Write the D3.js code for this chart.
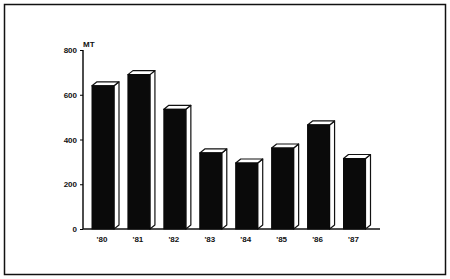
<!DOCTYPE html>
<html>
<head>
<meta charset="UTF-8">
<script src="https://d3js.org/d3.v7.min.js"></script>
<style>
  body { margin: 0; background: #fff; }
  text { font-family: "Liberation Sans", Arial, sans-serif; font-weight: bold; fill: #111; }
</style>
</head>
<body>
<div id="chart"></div>
<script>
// data (MT per year)
var years = ["'80", "'81", "'82", "'83", "'84", "'85", "'86", "'87"];
var values = [640, 690, 535, 340, 295, 362, 465, 315];
var yTicks = [0, 200, 400, 600, 800];

var W = 450, H = 279;
var svg = d3.select("#chart").append("svg")
    .attr("width", W)
    .attr("height", H);

// outer frame
svg.append("rect")
    .attr("x", 4.5).attr("y", 4.5)
    .attr("width", 441).attr("height", 270)
    .attr("fill", "none")
    .attr("stroke", "#111")
    .attr("stroke-width", 1.5);

var x = d3.scalePoint()
    .domain(years)
    .range([103, 354.5]);

var y = d3.scaleLinear()
    .domain([0, 800])
    .range([229, 50]);

var barW = 22, dx = 5, dy = 4;

// y axis
var yAxis = svg.append("g")
    .attr("transform", "translate(83,0)")
    .call(d3.axisLeft(y).tickValues(yTicks).tickSize(3).tickPadding(3));
yAxis.select(".domain").attr("stroke", "#111").attr("stroke-width", 1.5)
    .attr("d", "M0," + y(800) + "V" + y(0));
yAxis.selectAll("text").style("font-size", "8px");

// unit label
svg.append("text")
    .attr("x", 83).attr("y", 47)
    .style("font-size", "8px")
    .text("MT");

// baseline
svg.append("line")
    .attr("x1", 83).attr("x2", 380)
    .attr("y1", y(0)).attr("y2", y(0))
    .attr("stroke", "#111").attr("stroke-width", 1.5);

// bars
var bars = svg.append("g").selectAll("g")
    .data(values)
    .enter().append("g");

// side face
bars.append("path")
    .attr("d", function(d, i) {
      var x1 = x(years[i]) + barW / 2, t = y(d);
      return "M" + x1 + "," + t + "L" + (x1 + dx) + "," + (t - dy) +
             "L" + (x1 + dx) + "," + (y(0) - dy) + "L" + x1 + "," + y(0) + "Z";
    })
    .attr("fill", "#fff").attr("stroke", "#111").attr("stroke-width", 1.2)
    .attr("stroke-linejoin", "round");

// top face
bars.append("path")
    .attr("d", function(d, i) {
      var x0 = x(years[i]) - barW / 2, t = y(d);
      return "M" + x0 + "," + t + "L" + (x0 + dx) + "," + (t - dy) +
             "L" + (x0 + barW + dx) + "," + (t - dy) + "L" + (x0 + barW) + "," + t + "Z";
    })
    .attr("fill", "#fff").attr("stroke", "#111").attr("stroke-width", 1.2)
    .attr("stroke-linejoin", "round");

// front face
bars.append("rect")
    .attr("x", function(d, i) { return x(years[i]) - barW / 2; })
    .attr("y", function(d) { return y(d); })
    .attr("width", barW)
    .attr("height", function(d) { return y(0) - y(d); })
    .attr("fill", "#0a0a0a")
    .attr("stroke", "#0a0a0a");

// year labels
svg.append("g").selectAll("text")
    .data(years)
    .enter().append("text")
    .attr("x", function(d) { return x(d) - 1; })
    .attr("y", 242)
    .attr("text-anchor", "middle")
    .style("font-size", "8px")
    .text(function(d) { return d; });
</script>
</body>
</html>
